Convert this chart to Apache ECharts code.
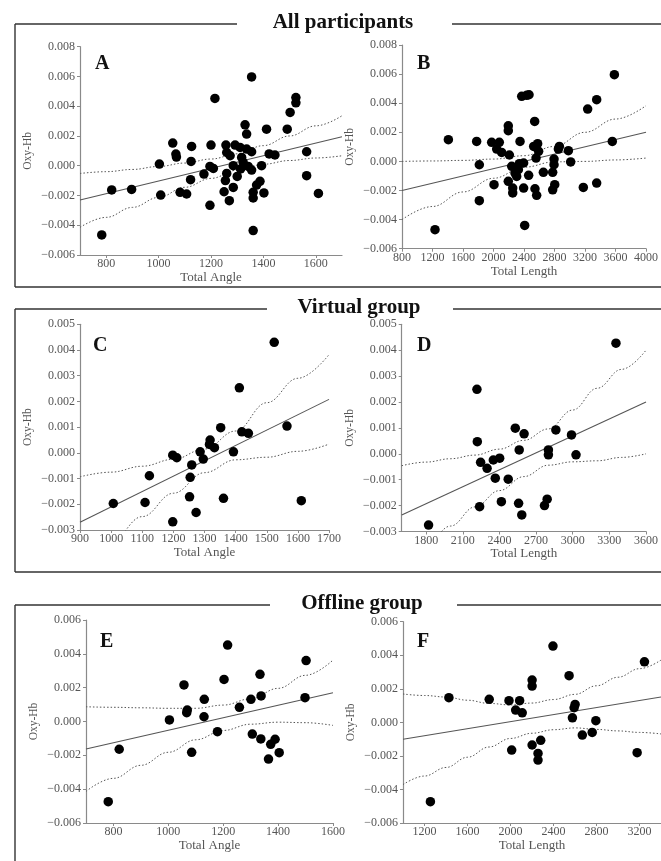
<!DOCTYPE html>
<html><head><meta charset="utf-8">
<script src="https://cdn.jsdelivr.net/npm/echarts@6/dist/echarts.min.js"></script>
<style>html,body{margin:0;padding:0;background:#fff}#c{width:661px;height:861px}</style>
</head><body><div id="c"></div>
<script>
// ---------- DATA ----------
// Panel A: all participants, Total Angle vs Oxy-Hb
const aX = [783, 821, 897, 1003, 1008, 1054, 1066, 1068, 1082, 1107, 1126, 1124, 1122, 1173, 1196, 1209, 1200, 1215, 1196, 1257, 1260, 1273, 1260, 1255, 1250, 1270, 1285, 1292, 1285, 1300, 1311, 1317, 1323, 1313, 1330, 1336, 1336, 1342, 1355, 1355, 1355, 1361, 1361, 1361, 1374, 1387, 1393, 1402, 1412, 1422, 1444, 1491, 1502, 1524, 1524, 1565, 1565, 1610];
const aY = [-0.00465, -0.00163, -0.00159, 0.00011, -0.00197, 0.00152, 0.00078, 0.00058, -0.00179, -0.00190, 0.00130, 0.00029, -0.00094, -0.00056, -0.00005, -0.00018, 0.00139, 0.00452, -0.00266, 0.00139, 0.00089, 0.00067, -0.00052, -0.00100, -0.00175, -0.00235, -0.00146, 0.00139, 0.00000, -0.00072, 0.00123, 0.00056, 0.00022, -0.00022, 0.00275, 0.00213, 0.00112, -0.00005, 0.00597, 0.00094, -0.00029, -0.00179, -0.00217, -0.00436, -0.00130, -0.00105, 0.00000, -0.00183, 0.00246, 0.00079, 0.00072, 0.00246, 0.00358, 0.00458, 0.00423, 0.00094, -0.00067, -0.00186];
const aFitX = [700, 1700];
const aFitY = [-0.00230, 0.00195];
const aBandX = [700, 800, 900, 1000, 1100, 1200, 1300, 1400, 1500, 1600, 1700];
const aUpper = [-0.00052, -0.00040, -0.00025, -0.00005, 0.00018, 0.00045, 0.00080, 0.00135, 0.00200, 0.00268, 0.00336];
const aLower = [-0.00414, -0.00347, -0.00280, -0.00213, -0.00145, -0.00085, -0.00030, 0.00010, 0.00035, 0.00052, 0.00067];

// Panel B: all participants, Total Length vs Oxy-Hb
const bX = [1233, 1408, 1779, 1814, 1814, 1976, 2007, 2042, 2076, 2107, 2194, 2194, 2208, 2194, 2239, 2252, 2252, 2282, 2339, 2348, 2304, 2326, 2370, 2435, 2466, 2395, 2395, 2409, 2461, 2540, 2527, 2579, 2592, 2558, 2544, 2566, 2654, 2776, 2794, 2794, 2776, 2803, 2851, 2864, 2982, 3012, 3178, 3235, 3353, 3353, 3558, 3585];
const bY = [-0.00469, 0.00149, 0.00137, -0.00023, -0.00270, 0.00131, -0.00160, 0.00085, 0.00131, 0.00062, 0.00245, 0.00211, 0.00044, -0.00137, -0.00034, -0.00183, -0.00217, -0.00080, -0.00016, 0.00137, -0.00103, -0.00057, 0.00447, 0.00454, 0.00458, -0.00011, -0.00183, -0.00440, -0.00096, 0.00275, 0.00103, 0.00122, 0.00069, 0.00023, -0.00188, -0.00233, -0.00075, -0.00075, -0.00023, 0.00016, -0.00195, -0.00160, 0.00085, 0.00103, 0.00074, -0.00004, -0.00179, 0.00360, 0.00424, -0.00149, 0.00137, 0.00596];
const bFitX = [800, 4000];
const bFitY = [-0.00200, 0.00200];
const bBandX = [800, 1200, 1600, 2000, 2400, 2800, 3200, 3600, 4000];
const bUpper = [0.00000, 0.00003, 0.00007, 0.00016, 0.00039, 0.00103, 0.00200, 0.00291, 0.00383];
const bLower = [-0.00400, -0.00310, -0.00210, -0.00116, -0.00040, -0.00003, 0.00000, 0.00010, 0.00023];

// Panel C: virtual group, Total Angle
const cX = [1007, 1109, 1123, 1198, 1198, 1211, 1252, 1254, 1259, 1273, 1286, 1296, 1316, 1318, 1332, 1352, 1361, 1393, 1412, 1420, 1441, 1524, 1565, 1611];
const cY = [-0.00197, -0.00193, -0.00089, -0.00268, -0.00009, -0.00019, -0.00171, -0.00095, -0.00047, -0.00232, 0.00004, -0.00024, 0.00033, 0.00050, 0.00020, 0.00098, -0.00177, 0.00004, 0.00253, 0.00082, 0.00076, 0.00430, 0.00104, -0.00186];
const cFitX = [900, 1700];
const cFitY = [-0.00270, 0.00208];
const cBandX = [900, 1000, 1100, 1200, 1300, 1400, 1500, 1600, 1700];
const cUpper = [-0.00093, -0.00075, -0.00052, -0.00025, 0.00015, 0.00085, 0.00195, 0.00290, 0.00382];
const cLower = [-0.00447, -0.00345, -0.00248, -0.00157, -0.00077, -0.00027, -0.00017, 0.00006, 0.00034];

// Panel D: virtual group, Total Length
const dX = [1820, 2216, 2219, 2246, 2238, 2299, 2350, 2366, 2402, 2416, 2472, 2530, 2562, 2557, 2583, 2602, 2769, 2791, 2801, 2801, 2862, 2990, 3027, 3354];
const dY = [-0.00275, 0.00249, 0.00047, -0.00033, -0.00204, -0.00056, -0.00024, -0.00094, -0.00017, -0.00185, -0.00098, 0.00099, 0.00015, -0.00191, -0.00236, 0.00077, -0.00200, -0.00175, 0.00015, -0.00004, 0.00092, 0.00073, -0.00004, 0.00427];
const dFitX = [1600, 3600];
const dFitY = [-0.00236, 0.00200];
const dBandX = [1600, 1800, 2000, 2200, 2400, 2600, 2800, 3000, 3200, 3400, 3600];
const dUpper = [-0.00046, -0.00032, -0.00019, -0.00005, 0.00018, 0.00052, 0.00096, 0.00169, 0.00253, 0.00326, 0.00400];
const dLower = [-0.00426, -0.00352, -0.00279, -0.00205, -0.00142, -0.00088, -0.00044, -0.00031, -0.00027, -0.00014, 0.00000];

// Panel E: offline group, Total Angle
const eX = [781, 821, 1004, 1057, 1069, 1067, 1085, 1131, 1130, 1179, 1203, 1216, 1259, 1301, 1306, 1334, 1338, 1337, 1365, 1373, 1389, 1404, 1498, 1502];
const eY = [-0.00474, -0.00164, 0.00009, 0.00216, 0.00068, 0.00052, -0.00182, 0.00131, 0.00028, -0.00060, 0.00249, 0.00452, 0.00084, 0.00131, -0.00074, 0.00279, 0.00151, -0.00103, -0.00222, -0.00135, -0.00105, -0.00184, 0.00141, 0.00360];
const eFitX = [700, 1600];
const eFitY = [-0.00163, 0.00170];
const eBandX = [700, 800, 900, 1000, 1100, 1200, 1300, 1400, 1500, 1600];
const eUpper = [0.00087, 0.00084, 0.00081, 0.00078, 0.00078, 0.00097, 0.00134, 0.00196, 0.00273, 0.00363];
const eLower = [-0.00413, -0.00336, -0.00259, -0.00182, -0.00108, -0.00053, -0.00016, -0.00004, -0.00007, -0.00023];

// Panel F: offline group, Total Length
const fX = [1255, 1427, 1802, 1986, 2011, 2048, 2085, 2109, 2201, 2201, 2201, 2256, 2256, 2281, 2395, 2545, 2576, 2592, 2601, 2668, 2760, 2794, 3178, 3246];
const fY = [-0.00473, 0.00147, 0.00137, 0.00129, -0.00165, 0.00073, 0.00129, 0.00057, 0.00252, 0.00216, -0.00135, -0.00185, -0.00225, -0.00107, 0.00455, 0.00278, 0.00027, 0.00087, 0.00107, -0.00076, -0.00060, 0.00010, -0.00181, 0.00361];
const fFitX = [1000, 3400];
const fFitY = [-0.00101, 0.00151];
const fBandX = [1000, 1200, 1400, 1600, 1800, 2000, 2200, 2400, 2600, 2800, 3000, 3200, 3400];
const fUpper = [0.00169, 0.00160, 0.00151, 0.00132, 0.00113, 0.00104, 0.00115, 0.00136, 0.00167, 0.00218, 0.00269, 0.00320, 0.00371];
const fLower = [-0.00371, -0.00320, -0.00269, -0.00208, -0.00147, -0.00096, -0.00065, -0.00044, -0.00033, -0.00042, -0.00051, -0.00060, -0.00069];

// Tick labels
const aXTicks = [800, 1000, 1200, 1400, 1600];
const bXTicks = [800, 1200, 1600, 2000, 2400, 2800, 3200, 3600, 4000];
const cXTicks = [900, 1000, 1100, 1200, 1300, 1400, 1500, 1600, 1700];
const dXTicks = [1800, 2100, 2400, 2700, 3000, 3300, 3600];
const eXTicks = [800, 1000, 1200, 1400, 1600];
const fXTicks = [1200, 1600, 2000, 2400, 2800, 3200];
const abYTicks = [-0.006, -0.004, -0.002, 0, 0.002, 0.004, 0.006, 0.008];
const cdYTicks = [-0.003, -0.002, -0.001, 0, 0.001, 0.002, 0.003, 0.004, 0.005];
const efYTicks = [-0.006, -0.004, -0.002, 0, 0.002, 0.004, 0.006];

// Texts
const sectionTitles = ['All participants', 'Virtual group', 'Offline group'];
const panelLetters = ['A', 'B', 'C', 'D', 'E', 'F'];
const xNames = ['Total Angle', 'Total Length', 'Total Angle', 'Total Length', 'Total Angle', 'Total Length'];
const yName = 'Oxy-Hb';

// ---------- LAYOUT ----------
const SERIF = '"Liberation Serif", "DejaVu Serif", serif';
const panels = [
  {g: {left: 80, top: 46.7, width: 262, height: 208.3}, xr: [700, 1700], yr: [-0.006, 0.008], xt: aXTicks, yt: abYTicks,
   X: aX, Y: aY, fx: aFitX, fy: aFitY, bx: aBandX, bu: aUpper, bl: aLower, letter: [95, 54]},
  {g: {left: 402, top: 45, width: 244, height: 203.7}, xr: [800, 4000], yr: [-0.006, 0.008], xt: bXTicks, yt: abYTicks,
   X: bX, Y: bY, fx: bFitX, fy: bFitY, bx: bBandX, bu: bUpper, bl: bLower, letter: [417, 54]},
  {g: {left: 80, top: 324.3, width: 249, height: 205.7}, xr: [900, 1700], yr: [-0.003, 0.005], xt: cXTicks, yt: cdYTicks,
   X: cX, Y: cY, fx: cFitX, fy: cFitY, bx: cBandX, bu: cUpper, bl: cLower, letter: [93, 336]},
  {g: {left: 401.7, top: 324.3, width: 250.8, height: 207.2}, xr: [1600, 3600], yr: [-0.003, 0.005], xt: dXTicks, yt: cdYTicks,
   X: dX, Y: dY, fx: dFitX, fy: dFitY, bx: dBandX, bu: dUpper, bl: dLower, letter: [417, 336]},
  {g: {left: 86, top: 620, width: 247, height: 203}, xr: [700, 1600], yr: [-0.006, 0.006], xt: eXTicks, yt: efYTicks,
   X: eX, Y: eY, fx: eFitX, fy: eFitY, bx: eBandX, bu: eUpper, bl: eLower, letter: [100, 632]},
  {g: {left: 403, top: 621.7, width: 260.4, height: 201.3}, xr: [1000, 3400], yr: [-0.006, 0.006], xt: fXTicks, yt: efYTicks,
   X: fX, Y: fY, fx: fFitX, fy: fFitY, bx: fBandX, bu: fUpper, bl: fLower, letter: [417, 632]}
];

function fmtY(v) {
  const s = Math.abs(v).toFixed(3);
  return (v < -1e-9 ? '\u2212' : '') + s;
}
function fmtX(v) { return String(Math.round(v)); }
const zip = (xs, ys) => xs.map((x, i) => [x, ys[i]]);

const AX_COLOR = '#8a8a8a';
const LBL_COLOR = '#555';
const grids = [], xAxes = [], yAxes = [], series = [];
panels.forEach((p, i) => {
  grids.push(Object.assign({containLabel: false}, p.g));
  xAxes.push({
    type: 'value', gridIndex: i, min: p.xr[0], max: p.xr[1],
    name: xNames[i], nameLocation: 'middle', nameGap: 16,
    nameTextStyle: {fontFamily: SERIF, fontSize: 13, color: LBL_COLOR},
    axisLine: {onZero: false, lineStyle: {color: AX_COLOR, width: 1.2}},
    axisTick: {show: true, length: 3, customValues: p.xt, lineStyle: {color: AX_COLOR}},
    axisLabel: {customValues: p.xt, margin: 3, fontFamily: SERIF, fontSize: 12, color: LBL_COLOR,
      formatter: fmtX, showMinLabel: true, showMaxLabel: true, hideOverlap: false},
    splitLine: {show: false}
  });
  yAxes.push({
    type: 'value', gridIndex: i, min: p.yr[0], max: p.yr[1],
    name: yName, nameLocation: 'middle', nameGap: 46, nameRotate: 90,
    nameTextStyle: {fontFamily: SERIF, fontSize: 11.5, color: LBL_COLOR},
    axisLine: {show: true, onZero: false, lineStyle: {color: AX_COLOR, width: 1.2}},
    axisTick: {show: true, length: 3, customValues: p.yt, lineStyle: {color: AX_COLOR}},
    axisLabel: {customValues: p.yt, margin: 5, fontFamily: SERIF, fontSize: 12, color: LBL_COLOR,
      formatter: fmtY, showMinLabel: true, showMaxLabel: true, hideOverlap: false},
    splitLine: {show: false}
  });
  series.push({
    type: 'line', xAxisIndex: i, yAxisIndex: i, data: zip(p.bx, p.bu), showSymbol: false, symbol: 'none',
    smooth: 0.4, smoothMonotone: 'x', clip: true, silent: true,
    lineStyle: {color: '#555', width: 1, type: [1.5, 2]}, z: 2
  });
  series.push({
    type: 'line', xAxisIndex: i, yAxisIndex: i, data: zip(p.bx, p.bl), showSymbol: false, symbol: 'none',
    smooth: 0.4, smoothMonotone: 'x', clip: true, silent: true,
    lineStyle: {color: '#555', width: 1, type: [1.5, 2]}, z: 2
  });
  series.push({
    type: 'line', xAxisIndex: i, yAxisIndex: i, data: zip(p.fx, p.fy), showSymbol: false, symbol: 'none',
    clip: true, silent: true, lineStyle: {color: '#555', width: 1.1}, z: 3
  });
  series.push({
    type: 'scatter', xAxisIndex: i, yAxisIndex: i, data: zip(p.X, p.Y),
    symbol: 'circle', symbolSize: 9.5, itemStyle: {color: '#000', opacity: 1}, z: 4
  });
});

// Frames & titles (decoration)
const FR = {stroke: '#333', lineWidth: 1.4};
function seg(x1, y1, x2, y2) { return {type: 'line', shape: {x1, y1, x2, y2}, style: FR, silent: true}; }
const graphics = [
  seg(15, 24, 237, 24), seg(452, 24, 661, 24), seg(15, 24, 15, 287), seg(15, 287, 661, 287),
  seg(15, 309, 267, 309), seg(453, 309, 661, 309), seg(15, 309, 15, 572), seg(15, 572, 661, 572),
  seg(15, 605, 270, 605), seg(457, 605, 661, 605), seg(15, 605, 15, 861)
];
const titleCenters = [[343, 23], [359, 308], [362, 604]];
sectionTitles.forEach((t, i) => {
  graphics.push({type: 'text', x: titleCenters[i][0], y: titleCenters[i][1], silent: true,
    style: {text: t, font: 'bold 21px ' + SERIF, fill: '#111', align: 'center', verticalAlign: 'middle'}});
});
panels.forEach((p, i) => {
  graphics.push({type: 'text', x: p.letter[0], y: p.letter[1], silent: true,
    style: {text: panelLetters[i], font: 'bold 20px ' + SERIF, fill: '#111', align: 'left', verticalAlign: 'top'}});
});

const chart = echarts.init(document.getElementById('c'), null, {renderer: 'canvas'});
chart.setOption({
  backgroundColor: '#fff',
  animation: false,
  grid: grids, xAxis: xAxes, yAxis: yAxes, series: series,
  graphic: graphics
});
</script></body></html>
